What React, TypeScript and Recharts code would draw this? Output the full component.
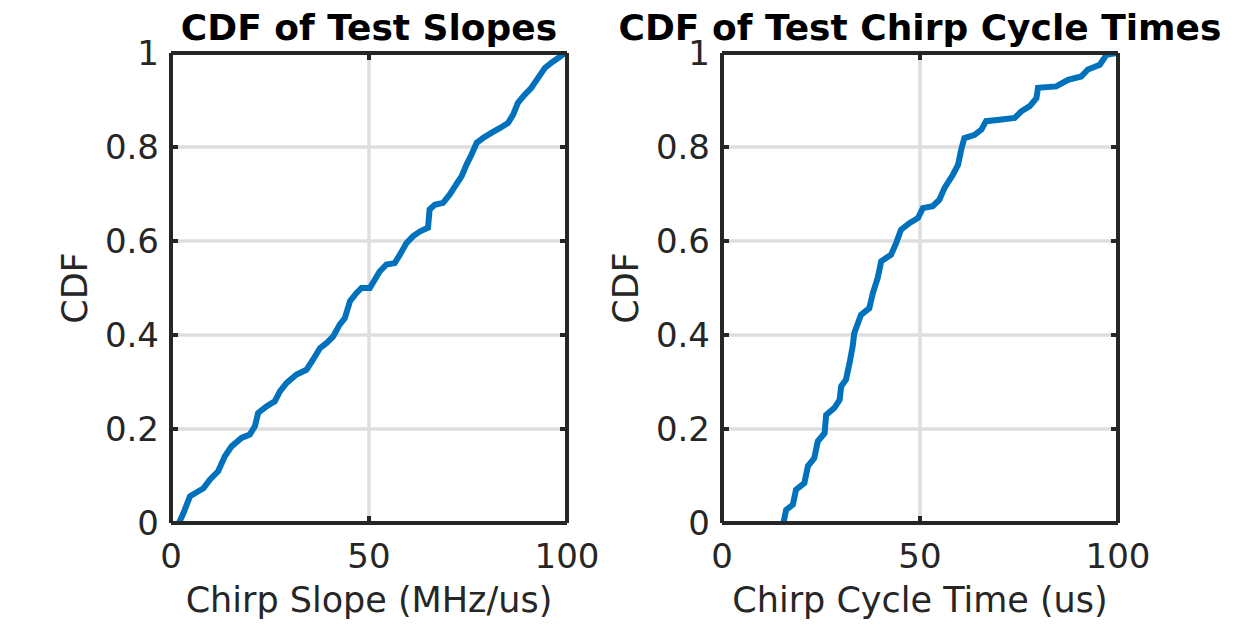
import React from 'react';
import { LineChart, Line, XAxis, YAxis, CartesianGrid } from 'recharts';

const slopeX = [2, 3.1, 4.8, 8.2, 9.8, 11.9, 13.6, 15.3, 17.8, 19.9, 21.2, 22.0, 24.1, 26.2, 27.5, 29.2, 31.7, 34.2, 35.9, 37.6, 39.3, 40.95, 42.6, 43.9, 45.2, 46.8, 48.1, 50.2, 51.5, 52.7, 54.4, 56.5, 57.8, 59.5, 61.1, 62.8, 64.9, 65.3, 66.6, 68.7, 70.4, 71.7, 73.4, 74.6, 75.9, 77.2, 78.8, 80.9, 83.0, 85.1, 86.4, 87.6, 89.3, 91.0, 92.7, 94.4, 96.0, 97.7, 99.0, 99.6];
const slopeCdf = [0, 0.02, 0.057, 0.074, 0.092, 0.11, 0.142, 0.163, 0.181, 0.188, 0.206, 0.234, 0.248, 0.259, 0.28, 0.298, 0.316, 0.326, 0.348, 0.372, 0.383, 0.397, 0.422, 0.436, 0.472, 0.489, 0.5, 0.5, 0.518, 0.535, 0.55, 0.553, 0.571, 0.596, 0.61, 0.62, 0.628, 0.667, 0.677, 0.681, 0.699, 0.716, 0.738, 0.762, 0.784, 0.809, 0.819, 0.83, 0.84, 0.851, 0.869, 0.894, 0.911, 0.926, 0.947, 0.968, 0.979, 0.989, 0.997, 1];

const cycleX = [15.5, 16.2, 17.9, 18.7, 20.8, 21.7, 23.3, 24.2, 25.9, 26.3, 28.4, 29.7, 30.1, 31.3, 32.2, 33.0, 33.4, 35.1, 37.2, 38.1, 39.3, 40.2, 42.7, 44.0, 45.2, 47.3, 49.5, 50.7, 53.2, 54.9, 56.2, 58.3, 59.6, 60.4, 61.2, 63.8, 65.5, 66.7, 70.1, 73.9, 75.6, 77.7, 79.4, 79.8, 84.4, 87.4, 90.7, 92.4, 95.4, 97.1, 99.6];
const cycleCdf = [0, 0.028, 0.039, 0.071, 0.085, 0.121, 0.138, 0.174, 0.191, 0.23, 0.245, 0.262, 0.291, 0.305, 0.34, 0.376, 0.404, 0.443, 0.457, 0.489, 0.521, 0.557, 0.571, 0.596, 0.624, 0.638, 0.649, 0.67, 0.674, 0.688, 0.713, 0.741, 0.762, 0.794, 0.819, 0.826, 0.837, 0.855, 0.858, 0.862, 0.876, 0.887, 0.904, 0.926, 0.929, 0.943, 0.95, 0.965, 0.975, 0.996, 1];

const xTicks = [0, 50, 100];
const yTicks = [0, 0.2, 0.4, 0.6, 0.8, 1];

const titles = ['CDF of Test Slopes', 'CDF of Test Chirp Cycle Times'];
const xLabels = ['Chirp Slope (MHz/us)', 'Chirp Cycle Time (us)'];
const yLabel = 'CDF';

const FONT = 'DejaVu Sans, sans-serif';
const AX = '#262626';
const TICK_FS = 34;
const LABEL_FS = 35;
const TITLE_FS = 36;
const TL = 7;
const FRAME_W = 4;

const slopeData = slopeX.map((x, i) => ({ x, y: slopeCdf[i] }));
const cycleData = cycleX.map((x, i) => ({ x, y: cycleCdf[i] }));

const fmt = (v: number) => String(v);

const BottomTick = (props: any) => {
  const { x, y, payload } = props;
  return (
    <g>
      <line x1={x} y1={y} x2={x} y2={y - TL} stroke={AX} strokeWidth={4} />
      <text x={x} y={y + 45} textAnchor="middle" fontFamily={FONT} fontSize={TICK_FS} fill={AX}>
        {fmt(payload.value)}
      </text>
    </g>
  );
};
const TopTick = (props: any) => {
  const { x, y } = props;
  return <line x1={x} y1={y} x2={x} y2={y + TL} stroke={AX} strokeWidth={4} />;
};
const LeftTick = (props: any) => {
  const { x, y, payload } = props;
  return (
    <g>
      <line x1={x} y1={y} x2={x + TL} y2={y} stroke={AX} strokeWidth={4} />
      <text x={x - 12} y={y + 12} textAnchor="end" fontFamily={FONT} fontSize={TICK_FS} fill={AX}>
        {fmt(payload.value)}
      </text>
    </g>
  );
};
const RightTick = (props: any) => {
  const { x, y } = props;
  return <line x1={x} y1={y} x2={x - TL} y2={y} stroke={AX} strokeWidth={4} />;
};

type PanelProps = { data: { x: number; y: number }[]; yAxisWidth: number; rightMargin: number };

const Panel = ({ data, yAxisWidth, rightMargin }: PanelProps) => (
  <LineChart
    width={625}
    height={625}
    data={data}
    margin={{ top: 43, right: rightMargin, bottom: 42, left: 0 }}
  >
    <CartesianGrid xAxisId="b" yAxisId="l" stroke="#dedede" strokeWidth={3.5} />
    <XAxis
      xAxisId="b"
      dataKey="x"
      type="number"
      domain={[0, 100]}
      ticks={xTicks}
      orientation="bottom"
      height={60}
      tickSize={0}
      tickMargin={0}
      tickLine={false}
      axisLine={{ stroke: AX, strokeWidth: FRAME_W }}
      tick={<BottomTick />}
      interval={0}
      allowDataOverflow
    />
    <XAxis
      xAxisId="t"
      dataKey="x"
      type="number"
      domain={[0, 100]}
      ticks={xTicks}
      orientation="top"
      height={10}
      tickSize={0}
      tickMargin={0}
      tickLine={false}
      axisLine={{ stroke: AX, strokeWidth: FRAME_W }}
      tick={<TopTick />}
      interval={0}
      allowDataOverflow
    />
    <YAxis
      yAxisId="l"
      dataKey="y"
      type="number"
      domain={[0, 1]}
      ticks={yTicks}
      orientation="left"
      width={yAxisWidth}
      tickSize={0}
      tickMargin={0}
      tickLine={false}
      axisLine={{ stroke: AX, strokeWidth: FRAME_W }}
      tick={<LeftTick />}
      interval={0}
      allowDataOverflow
    />
    <YAxis
      yAxisId="r"
      dataKey="y"
      type="number"
      domain={[0, 1]}
      ticks={yTicks}
      orientation="right"
      width={10}
      tickSize={0}
      tickMargin={0}
      tickLine={false}
      axisLine={{ stroke: AX, strokeWidth: FRAME_W }}
      tick={<RightTick />}
      interval={0}
      allowDataOverflow
    />
    <Line
      xAxisId="b"
      yAxisId="l"
      dataKey="y"
      type="linear"
      stroke="#0072BD"
      strokeWidth={6}
      dot={false}
      isAnimationActive={false}
    />
  </LineChart>
);

export default function App() {
  return (
    <div style={{ position: 'absolute', left: 0, top: 0, width: 1250, height: 625, background: '#fff' }}>
      <div style={{ position: 'absolute', left: 0, top: 0 }}>
        <Panel data={slopeData} yAxisWidth={171} rightMargin={48} />
      </div>
      <div style={{ position: 'absolute', left: 625, top: 0 }}>
        <Panel data={cycleData} yAxisWidth={97} rightMargin={122} />
      </div>
      <svg
        width={1250}
        height={625}
        style={{ position: 'absolute', left: 0, top: 0, pointerEvents: 'none' }}
      >
        <text x={369} y={40} textAnchor="middle" fontFamily={FONT} fontWeight="bold" fontSize={TITLE_FS} fill="#000">
          {titles[0]}
        </text>
        <text x={920} y={40} textAnchor="middle" fontFamily={FONT} fontWeight="bold" fontSize={TITLE_FS} fill="#000">
          {titles[1]}
        </text>
        <text x={369} y={612} textAnchor="middle" fontFamily={FONT} fontSize={LABEL_FS} fill={AX}>
          {xLabels[0]}
        </text>
        <text x={920} y={612} textAnchor="middle" fontFamily={FONT} fontSize={LABEL_FS} fill={AX}>
          {xLabels[1]}
        </text>
        <text x={87} y={288} textAnchor="middle" fontFamily={FONT} fontSize={LABEL_FS} fill={AX} transform="rotate(-90 87 288)">
          {yLabel}
        </text>
        <text x={638} y={288} textAnchor="middle" fontFamily={FONT} fontSize={LABEL_FS} fill={AX} transform="rotate(-90 638 288)">
          {yLabel}
        </text>
      </svg>
    </div>
  );
}
